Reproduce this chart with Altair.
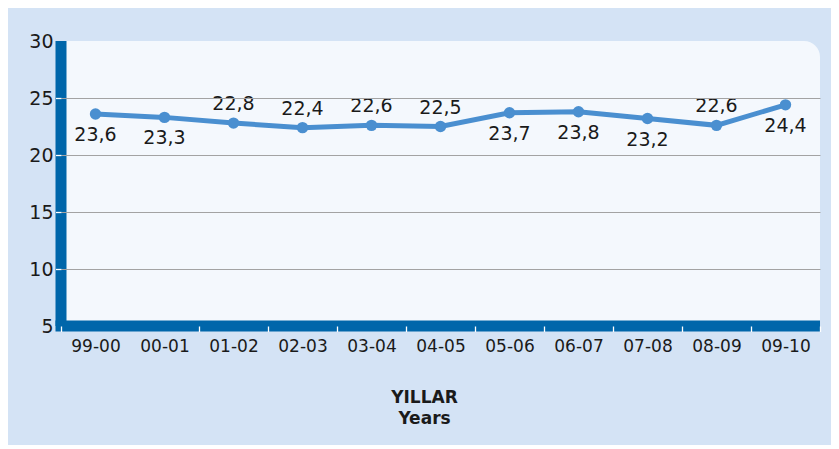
import altair as alt
import pandas as pd

# ---- data ----
years = ["99-00", "00-01", "01-02", "02-03", "03-04", "04-05",
         "05-06", "06-07", "07-08", "08-09", "09-10"]
values = [23.6, 23.3, 22.8, 22.4, 22.6, 22.5, 23.7, 23.8, 23.2, 22.6, 24.4]
label_side = ["below", "below", "above", "above", "above", "above",
              "below", "below", "below", "above", "below"]
y_ticks = [5, 10, 15, 20, 25, 30]
x_title = ["YILLAR", "Years"]

# ---- styling ----
FONT = "DejaVu Sans"
OUTER_BG = "#d4e3f5"
PLOT_BG = "#f4f8fd"
AXIS_BLUE = "#0066aa"
LINE_BLUE = "#4a8fd0"
TEXT = "#1a1a1a"
W, H = 759, 285
BAR = 11

df = pd.DataFrame({"year": years, "value": values, "side": label_side})

x_enc = alt.X(
    "year:N", sort=years,
    scale=alt.Scale(type="band", paddingInner=0, paddingOuter=0),
    axis=alt.Axis(
        title=x_title, titleFont=FONT, titleFontSize=17, titleFontWeight="bold",
        titleColor=TEXT, titleX=363, titleY=76, titleAlign="center",
        titleBaseline="alphabetic", titleLineHeight=21.5, titleAnchor="start",
        labelAngle=0, labelFont=FONT, labelFontSize=17, labelColor=TEXT,
        labelPadding=7, labelBaseline="top",
        domain=False,
        tickBand="extent", tickSize=5.5, tickWidth=1.3,
        tickColor={"condition": {"test": "datum.value == '99-00'", "value": "transparent"},
                   "value": "white"},
        grid=False, zindex=1,
    ),
)
y_enc = alt.Y(
    "value:Q",
    scale=alt.Scale(domain=[5, 30], nice=False, zero=False),
    axis=alt.Axis(
        title=None, values=y_ticks, labelFont=FONT, labelFontSize=19,
        labelColor=TEXT, labelPadding=2.5,
        domain=False,
        tickSize=5.5, tickWidth=1.3,
        tickColor={"condition": {"test": "datum.value == 5 || datum.value == 30",
                                 "value": "transparent"}, "value": "white"},
        grid=True, gridWidth=1.2,
        gridColor={"condition": {"test": "datum.value == 30 || datum.value == 5",
                                 "value": "transparent"}, "value": "#a3a3a3"},
        zindex=1,
    ),
)

frame = pd.DataFrame({"k": [0]})
plot_bg = alt.Chart(frame).mark_rect(
    color=PLOT_BG, cornerRadiusTopRight=16
).encode(x=alt.value(0), x2=alt.value(W), y=alt.value(0), y2=alt.value(H))
y_bar = alt.Chart(frame).mark_rule(
    color=AXIS_BLUE, strokeWidth=BAR, strokeCap="butt"
).encode(x=alt.value(0), y=alt.value(0), y2=alt.value(H))
x_bar = alt.Chart(frame).mark_rule(
    color=AXIS_BLUE, strokeWidth=BAR, strokeCap="butt"
).encode(y=alt.value(H), x=alt.value(-BAR / 2), x2=alt.value(W))

base = alt.Chart(df).transform_calculate(
    label="replace(format(datum.value, '.1f'), '.', ',')"
).encode(x=x_enc, y=y_enc)

line = base.mark_line(color=LINE_BLUE, strokeWidth=5)
points = base.mark_circle(color=LINE_BLUE, size=130, opacity=1)
above = base.transform_filter("datum.side == 'above'").mark_text(
    dy=-19, font=FONT, fontSize=19, color=TEXT, baseline="middle"
).encode(text="label:N")
below = base.transform_filter("datum.side == 'below'").mark_text(
    dy=21, font=FONT, fontSize=19, color=TEXT, baseline="middle"
).encode(text="label:N")

chart = alt.layer(plot_bg, y_bar, x_bar, line, points, above, below).properties(
    width=W, height=H,
    padding={"left": 53, "top": 33, "right": 11, "bottom": 119},
    autosize=alt.AutoSizeParams(type="none"),
    background=OUTER_BG,
).configure_view(stroke=None, fill=None)

chart.save("out.html", embed_options={"renderer": "svg", "actions": False})
